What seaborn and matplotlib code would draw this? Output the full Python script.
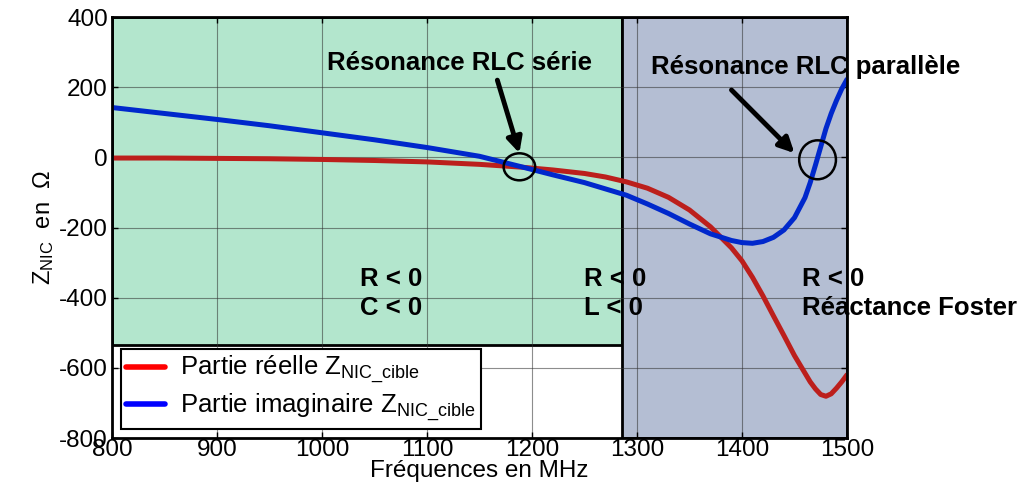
import matplotlib
matplotlib.use('Agg')
import matplotlib.pyplot as plt
from matplotlib.lines import Line2D
from matplotlib.patches import Rectangle, Ellipse
import seaborn as sns
import pandas as pd

freq = [800, 850, 900, 950, 1000, 1050, 1100, 1150, 1190, 1220, 1250, 1270, 1290,
        1310, 1330, 1350, 1370, 1390, 1400, 1410, 1420, 1430, 1440, 1450, 1460,
        1465, 1470, 1475, 1480, 1485, 1490, 1495, 1500]
z_real = [-2, -2, -3, -4, -6, -9, -13, -20, -28, -36, -46, -56, -70,
          -88, -114, -150, -198, -258, -295, -342, -395, -452, -508, -565, -615,
          -640, -660, -676, -681, -674, -658, -640, -620]
z_imag = [142, 125, 108, 90, 70, 50, 28, 3, -27, -50, -72, -90, -108,
          -133, -160, -190, -218, -237, -243, -245, -240, -228, -207, -172, -115,
          -72, -22, 30, 82, 125, 162, 195, 222]

labels = [r'Partie réelle $\mathregular{Z_{NIC\_cible}}$',
          r'Partie imaginaire $\mathregular{Z_{NIC\_cible}}$']

# zones
split_freq = 1286
green_bottom = -535

df = pd.DataFrame({"f": freq, "re": z_real, "im": z_imag})

sns.set_style("ticks")
plt.rcParams['font.family'] = ['Liberation Sans', 'DejaVu Sans']
plt.rcParams['mathtext.fontset'] = 'custom'
plt.rcParams['mathtext.rm'] = 'Liberation Sans'
plt.rcParams['mathtext.it'] = 'Liberation Sans:italic'
plt.rcParams['mathtext.bf'] = 'Liberation Sans:bold'
plt.rcParams['axes.unicode_minus'] = False
plt.rcParams['text.color'] = 'black'
plt.rcParams['axes.labelcolor'] = 'black'
plt.rcParams['xtick.color'] = 'black'
plt.rcParams['ytick.color'] = 'black'

fig = plt.figure(figsize=(10.25, 4.9), dpi=100)
ax = fig.add_axes([0.1093, 0.1061, 0.7170, 0.8592])

ax.add_patch(Rectangle((800, green_bottom), split_freq - 800, 400 - green_bottom,
                       facecolor='#B3E6CD', edgecolor='black', lw=2, zorder=1))
ax.add_patch(Rectangle((split_freq, -800), 1500 - split_freq, 1200,
                       facecolor='#B4BED3', edgecolor='black', lw=2, zorder=1))

sns.lineplot(data=df, x="f", y="re", ax=ax, color='#BC1F1C', lw=3.6, zorder=3)
sns.lineplot(data=df, x="f", y="im", ax=ax, color='#0028CC', lw=3.6, zorder=4)

ax.set_xlim(800, 1500)
ax.set_ylim(-800, 400)
ax.set_xticks([800, 900, 1000, 1100, 1200, 1300, 1400, 1500])
ax.set_yticks([-800, -600, -400, -200, 0, 200, 400])
ax.set_axisbelow('line')
ax.grid(True, color='#303030', lw=0.8, alpha=0.55)
ax.tick_params(direction='in', length=4, top=True, right=True, labelsize=17.5,
               pad=1, width=1)
ax.tick_params(axis='y', pad=3)
for s in ax.spines.values():
    s.set_linewidth(2)
    s.set_color('black')
    s.set_zorder(6)

ax.set_xlabel("Fréquences en MHz", fontsize=17.5, labelpad=-1)
ax.set_ylabel(r'$\mathregular{Z_{NIC}}$  en  Ω', fontsize=17, labelpad=2)

bold = dict(fontsize=18.5, fontweight='bold', color='black', zorder=7)
ax.text(1131, 269, "Résonance RLC série", ha='center', va='center', **bold)
ax.text(1461, 258, "Résonance RLC parallèle", ha='center', va='center', **bold)
ax.text(1036, -388, "R < 0\nC < 0", ha='left', va='center', linespacing=1.25, **bold)
ax.text(1250, -388, "R < 0\nL < 0", ha='left', va='center', linespacing=1.25, **bold)
ax.text(1457, -388, "R < 0\nRéactance Foster", ha='left', va='center',
        linespacing=1.25, **bold)

arrow = dict(arrowstyle='-|>,head_length=0.9,head_width=0.45', lw=3.5,
             color='black', shrinkA=0, shrinkB=0)
ax.annotate("", xy=(1188, 12), xytext=(1167, 220), arrowprops=arrow, zorder=7)
ax.annotate("", xy=(1450, 12), xytext=(1390, 192), arrowprops=arrow, zorder=7)

ax.add_patch(Ellipse((1188, -27), 30, 77, fill=False, ec='black', lw=1.8, zorder=7))
ax.add_patch(Ellipse((1472, -7), 35, 111, fill=False, ec='black', lw=1.8, zorder=7))

handles = [Line2D([], [], color='#FF0000', lw=4),
           Line2D([], [], color='#0000FF', lw=4)]
leg = ax.legend(handles, labels, loc='lower left', bbox_to_anchor=(0.012, 0.022),
                fontsize=18.5, frameon=True, fancybox=False, framealpha=1,
                edgecolor='black', handlelength=1.5, borderpad=0.2,
                labelspacing=0.2, handletextpad=0.6, borderaxespad=0)
leg.get_frame().set_linewidth(1.5)
leg.set_zorder(8)

fig.savefig("out.png", dpi=100)
